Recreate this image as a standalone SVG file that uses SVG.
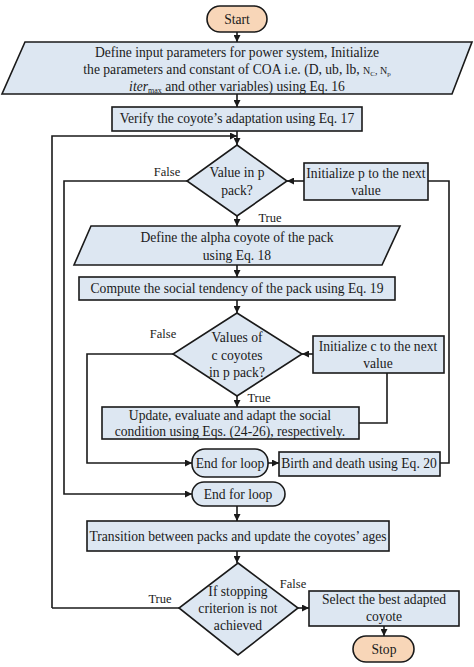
<svg xmlns="http://www.w3.org/2000/svg" width="474" height="667" viewBox="0 0 474 667">
<defs>
<marker id="arr" viewBox="0 0 10 10" refX="10" refY="5" markerWidth="7" markerHeight="7" markerUnits="userSpaceOnUse" orient="auto">
<path d="M0,0 L10,5 L0,10 z" fill="#1a1a1a"/>
</marker>
</defs>
<style>
.n{fill:#dde7f2;stroke:#1a1a1a;stroke-width:1.6}
.t{fill:#f8d6b8;stroke:#1a1a1a;stroke-width:1.6}
text{font-family:"Liberation Serif","Times New Roman",serif;font-size:13.6px;fill:#1a1a1a;text-anchor:middle}
.c path{fill:none;stroke:#1a1a1a;stroke-width:1.6}
.lbl{font-size:12.5px}
</style>
<rect width="474" height="667" fill="#ffffff"/>
<g class="c" id="connectors">
<path d="M237,32 V42" marker-end="url(#arr)"/>
<path d="M237,94 V107" marker-end="url(#arr)"/>
<path d="M237,131 V145" marker-end="url(#arr)"/>
<path d="M52,608 V136 H237" marker-end="url(#arr)"/>
<path d="M304,181 H287" marker-end="url(#arr)"/>
<path d="M187,181 H64 V494 H192" marker-end="url(#arr)"/>
<path d="M237,216 V226" marker-end="url(#arr)"/>
<path d="M237,265 V277" marker-end="url(#arr)"/>
<path d="M237,300 V313" marker-end="url(#arr)"/>
<path d="M313,354 H302" marker-end="url(#arr)"/>
<path d="M173,354 H87 V463 H192" marker-end="url(#arr)"/>
<path d="M237,396 V407" marker-end="url(#arr)"/>
<path d="M359,423 H387 V373"/>
<path d="M268,463 H279" marker-end="url(#arr)"/>
<path d="M440,463 H449 V181 H428"/>
<path d="M237,506 V521" marker-end="url(#arr)"/>
<path d="M237,551 V563" marker-end="url(#arr)"/>
<path d="M179,608 H52"/>
<path d="M298,608 H309" marker-end="url(#arr)"/>
<path d="M384,626 V636" marker-end="url(#arr)"/>
</g>
<g id="start"><rect class="t" x="207" y="6" width="60" height="26" rx="13"/><text x="237" y="24">Start</text></g>
<g id="define-input">
<polygon class="n" points="25,42 472,42 452,94 2,94"/>
<text x="237" y="57">Define input parameters for power system, Initialize</text>
<text x="237" y="74">the parameters and constant of COA i.e. (D, ub, lb, <tspan font-size="10">N</tspan><tspan font-size="7" dy="2">C</tspan><tspan font-size="10" dy="-2">, N</tspan><tspan font-size="7" dy="2">p</tspan></text>
<text x="237" y="91"><tspan font-style="italic">iter</tspan><tspan font-size="8" dy="2">max</tspan><tspan dy="-2"> and other variables) using Eq. 16</tspan></text>
</g>
<g id="verify"><rect class="n" x="112" y="107" width="250" height="24"/><text x="237" y="123">Verify the coyote’s adaptation using Eq. 17</text></g>
<g id="dec-p">
<polygon class="n" points="237,145 287,181 237,216 187,181"/>
<text x="237" y="177">Value in p</text><text x="237" y="195">pack?</text>
</g>
<g id="init-p"><rect class="n" x="304" y="163" width="124" height="37"/><text x="366" y="178">Initialize p to the next</text><text x="366" y="195">value</text></g>
<g id="alpha">
<polygon class="n" points="91,226 400,226 382,265 74,265"/>
<text x="237" y="242">Define the alpha coyote of the pack</text><text x="237" y="260">using Eq. 18</text>
</g>
<g id="social"><rect class="n" x="79" y="277" width="316" height="23"/><text x="237" y="293">Compute the social tendency of the pack using Eq. 19</text></g>
<g id="dec-c">
<polygon class="n" points="237,313 302,354 237,396 173,354"/>
<text x="237" y="342">Values of</text><text x="237" y="360">c coyotes</text><text x="237" y="377">in p pack?</text>
</g>
<g id="init-c"><rect class="n" x="313" y="336" width="131" height="37"/><text x="378" y="351">Initialize c to the next</text><text x="378" y="368">value</text></g>
<g id="update"><rect class="n" x="102" y="407" width="257" height="32"/><text x="230" y="420">Update, evaluate and adapt the social</text><text x="230" y="436">condition using Eqs. (24-26), respectively.</text></g>
<g id="end-loop-1"><rect class="n" x="192" y="449" width="76" height="28" rx="13"/><text x="230" y="468">End for loop</text></g>
<g id="birth"><rect class="n" x="279" y="452" width="161" height="24"/><text x="359" y="468">Birth and death using Eq. 20</text></g>
<g id="end-loop-2"><rect class="n" x="192" y="482" width="93" height="24" rx="12"/><text x="238" y="499">End for loop</text></g>
<g id="transition"><rect class="n" x="87" y="521" width="302" height="30"/><text x="238" y="541">Transition between packs and update the coyotes’ ages</text></g>
<g id="dec-stop">
<polygon class="n" points="238,563 298,608 238,655 179,608"/>
<text x="238" y="596">If stopping</text><text x="238" y="613">criterion is not</text><text x="238" y="630">achieved</text>
</g>
<g id="select"><rect class="n" x="309" y="591" width="150" height="35"/><text x="384" y="604">Select the best adapted</text><text x="384" y="621">coyote</text></g>
<g id="stop"><rect class="t" x="353" y="636" width="61" height="26" rx="13"/><text x="384" y="654">Stop</text></g>
<g id="labels">
<text class="lbl" x="167" y="176">False</text>
<text class="lbl" x="270" y="222">True</text>
<text class="lbl" x="163" y="338">False</text>
<text class="lbl" x="259" y="402">True</text>
<text class="lbl" x="160" y="603">True</text>
<text class="lbl" x="293" y="588">False</text>
</g>
</svg>
